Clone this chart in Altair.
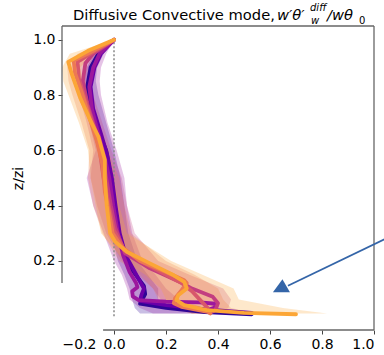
import altair as alt
import pandas as pd

# ---------------- data ----------------
SERIES = ["a_indigo", "b_purple", "c_violet", "d_magenta", "e_pink", "f_coral", "g_gold"]
COLORS = ["#2f0596", "#6a00a8", "#9c179e", "#c33d80", "#d8576b", "#ed7953", "#fca636"]

IND_X = [0.0, -0.06, -0.09, -0.105, -0.092, -0.06, -0.03, -0.012, 0.003, 0.018, 0.04, 0.075, 0.115, 0.12, 0.10, 0.2, 0.35, 0.53]
IND_Z = [1.0, 0.95, 0.9, 0.82, 0.757, 0.67, 0.6, 0.5, 0.4, 0.3, 0.22, 0.16, 0.11, 0.08, 0.045, 0.03, 0.015, 0.007]

PUR_X = [0.0, -0.05, -0.075, -0.09, -0.08, -0.05, -0.025, -0.008, 0.006, 0.022, 0.045, 0.08, 0.10, 0.115, 0.105, 0.10, 0.2, 0.35, 0.53]
PUR_Z = [1.0, 0.95, 0.9, 0.83, 0.75, 0.66, 0.58, 0.5, 0.4, 0.3, 0.22, 0.16, 0.125, 0.10, 0.075, 0.055, 0.04, 0.025, 0.012]

VIO_X = [0.0, -0.055, -0.08, -0.095, -0.085, -0.06, -0.035, -0.018, -0.003, 0.015, 0.035, 0.06, 0.085, 0.09, 0.07, 0.072, 0.095, 0.2, 0.33, 0.39, 0.385, 0.36]
VIO_Z = [1.0, 0.95, 0.9, 0.83, 0.75, 0.66, 0.57, 0.5, 0.4, 0.3, 0.22, 0.16, 0.12, 0.105, 0.09, 0.072, 0.058, 0.053, 0.05, 0.045, 0.03, 0.022]

MAG_X = [0.0, -0.08, -0.11, -0.12, -0.1, -0.07, -0.045, -0.03, -0.012, 0.005, 0.042, 0.138, 0.254, 0.30, 0.38, 0.40, 0.39, 0.37]
MAG_Z = [1.0, 0.95, 0.915, 0.85, 0.76, 0.67, 0.58, 0.5, 0.4, 0.32, 0.228, 0.173, 0.124, 0.10, 0.07, 0.047, 0.022, 0.012]

PNK_X = [0.0, -0.09, -0.14, -0.135, -0.11, -0.08, -0.055, -0.04, -0.02, 0.0, 0.04, 0.12, 0.2, 0.26, 0.3, 0.33, 0.36]
PNK_Z = [1.0, 0.95, 0.92, 0.86, 0.78, 0.69, 0.6, 0.5, 0.4, 0.31, 0.24, 0.19, 0.15, 0.12, 0.09, 0.06, 0.03]

COR_X = [0.0, -0.1, -0.155, -0.15, -0.124, -0.095, -0.065, -0.045, -0.035, -0.02, -0.005, 0.03, 0.1, 0.2, 0.27, 0.28, 0.26, 0.235, 0.23, 0.26, 0.36, 0.37]
COR_Z = [1.0, 0.95, 0.925, 0.88, 0.81, 0.72, 0.63, 0.55, 0.45, 0.38, 0.3, 0.25, 0.2, 0.16, 0.13, 0.12, 0.094, 0.065, 0.047, 0.034, 0.016, 0.01]

GLD_X = [0.0, -0.1, -0.176, -0.163, -0.13, -0.092, -0.06, -0.035, -0.035, -0.028, -0.015, 0.004, 0.049, 0.14, 0.23, 0.27, 0.28, 0.247, 0.24, 0.27, 0.357, 0.5, 0.70]
GLD_Z = [1.0, 0.96, 0.92, 0.878, 0.79, 0.71, 0.65, 0.565, 0.5, 0.4, 0.3, 0.27, 0.233, 0.19, 0.148, 0.124, 0.10, 0.076, 0.058, 0.04, 0.022, 0.012, 0.007]

# spread bands
BAND_Z = [1.0, 0.95, 0.9, 0.85, 0.8, 0.7, 0.6, 0.5, 0.4, 0.3, 0.2, 0.15, 0.1, 0.06, 0.03, 0.01]
IND_LO = [0, -0.075, -0.105, -0.12, -0.115, -0.09, -0.06, -0.045, -0.03, -0.01, 0.015, 0.04, 0.06, 0.07, 0.08, 0.1]
IND_HI = [0, -0.04, -0.065, -0.07, -0.06, -0.03, 0.0, 0.025, 0.04, 0.055, 0.09, 0.13, 0.17, 0.17, 0.3, 0.55]
VIO_LO = [0, -0.08, -0.11, -0.125, -0.12, -0.095, -0.07, -0.105, -0.08, -0.04, 0.0, 0.03, 0.05, 0.06, 0.1, 0.15]
VIO_HI = [0, -0.03, -0.05, -0.055, -0.05, -0.025, 0.01, 0.04, 0.05, 0.07, 0.11, 0.16, 0.2, 0.25, 0.35, 0.45]
MAG_LO = [0, -0.11, -0.14, -0.145, -0.135, -0.105, -0.08, -0.09, -0.065, -0.03, 0.03, 0.09, 0.15, 0.18, 0.25, 0.3]
MAG_HI = [0, -0.05, -0.08, -0.09, -0.08, -0.045, -0.01, 0.03, 0.05, 0.08, 0.17, 0.29, 0.42, 0.45, 0.44, 0.4]
COR_LO = [0, -0.14, -0.18, -0.175, -0.16, -0.125, -0.095, -0.1, -0.08, -0.045, 0.02, 0.1, 0.15, 0.17, 0.22, 0.3]
COR_HI = [0, -0.07, -0.12, -0.11, -0.09, -0.06, -0.025, 0.02, 0.04, 0.065, 0.2, 0.31, 0.4, 0.42, 0.45, 0.55]
GLD_LO = [0, -0.17, -0.2, -0.195, -0.175, -0.135, -0.1, -0.09, -0.07, -0.05, 0.04, 0.12, 0.18, 0.2, 0.24, 0.3]
GLD_HI = [0, -0.08, -0.13, -0.12, -0.1, -0.06, -0.02, 0.0, 0.02, 0.05, 0.22, 0.34, 0.46, 0.48, 0.65, 0.82]

X_TICKS = [-0.2, 0.0, 0.2, 0.4, 0.6, 0.8, 1.0]
Y_TICKS = [0.2, 0.4, 0.6, 0.8, 1.0]

# ---------------- tables ----------------
line_sets = [("a_indigo", IND_X, IND_Z), ("b_purple", PUR_X, PUR_Z), ("c_violet", VIO_X, VIO_Z),
             ("d_magenta", MAG_X, MAG_Z), ("e_pink", PNK_X, PNK_Z), ("f_coral", COR_X, COR_Z),
             ("g_gold", GLD_X, GLD_Z)]
rows = []
for name, xs_, zs_ in line_sets:
    for i, (x, z) in enumerate(zip(xs_, zs_)):
        rows.append({"series": name, "i": i, "x": x, "z": z})
lines_df = pd.DataFrame(rows)

band_sets = [("a_indigo", IND_LO, IND_HI), ("c_violet", VIO_LO, VIO_HI), ("d_magenta", MAG_LO, MAG_HI),
             ("f_coral", COR_LO, COR_HI), ("g_gold", GLD_LO, GLD_HI)]
brows = []
for name, lo, hi in band_sets:
    for z, a, b in zip(BAND_Z, lo, hi):
        brows.append({"series": name, "z": z, "lo": a, "hi": b})
bands_df = pd.DataFrame(brows)

spines_df = pd.DataFrame({
    "x1": [-0.2, -0.042, -0.2, 1.0],
    "x2": [-0.2, 1.0, 1.0, 1.0],
    "z1": [0.12, -0.05, 1.05, -0.05],
    "z2": [1.05, -0.05, 1.05, 1.05],
})
zero_df = pd.DataFrame({"x": [0.0], "z1": [0.0], "z2": [1.0]})
arrow_df = pd.DataFrame({"x1": [1.1], "z1": [0.3056], "x2": [0.669], "z2": [0.110]})
head_df = pd.DataFrame({"x": [0.644], "z": [0.110]})

xs = alt.Scale(domain=[-0.2, 1.0], nice=False, zero=False)
ys = alt.Scale(domain=[-0.05, 1.05], nice=False, zero=False)
cscale = alt.Scale(domain=SERIES, range=COLORS)

x_axis = alt.Axis(values=X_TICKS, format=".1f", title=None, domain=False, grid=False,
                  labelFontSize=14, labelColor="#000", tickColor="#444", tickSize=4,
                  labelPadding=3, labelFont="DejaVu Sans",
                  tickOpacity={"condition": {"test": "datum.value < -0.1", "value": 0}, "value": 1})
y_axis = alt.Axis(values=Y_TICKS, format=".1f", title="z/zi", domain=False, grid=False,
                  labelFontSize=14, labelColor="#000", tickColor="#444", tickSize=4,
                  labelPadding=3, labelFont="DejaVu Sans", titleFont="DejaVu Sans",
                  titleFontSize=14, titleFontWeight="normal", titleColor="#000",
                  titleX=-44, titleY=152, titleAngle=-90, titleAlign="center", titleBaseline="middle")

bands = alt.Chart(bands_df).mark_area(orient="horizontal", opacity=0.26).encode(
    x=alt.X("lo:Q", scale=xs, axis=x_axis, stack=None),
    x2="hi:Q",
    y=alt.Y("z:Q", scale=ys, axis=y_axis),
    color=alt.Color("series:N", scale=cscale, legend=None),
)

zero_line = alt.Chart(zero_df).mark_rule(color="#888", strokeDash=[2, 2], strokeWidth=1.5).encode(
    x="x:Q", y="z1:Q", y2="z2:Q")

lines = alt.Chart(lines_df).mark_line(strokeWidth=3.8, strokeCap="round", strokeJoin="round").encode(
    x="x:Q", y="z:Q",
    color=alt.Color("series:N", scale=cscale, legend=None),
    order=alt.Order("i:Q"),
)

spines = alt.Chart(spines_df).mark_rule(color="#666", strokeWidth=1.3).encode(
    x="x1:Q", x2="x2:Q", y="z1:Q", y2="z2:Q")

arrow = alt.Chart(arrow_df).mark_rule(color="#3465a8", strokeWidth=1.8).encode(
    x="x1:Q", x2="x2:Q", y="z1:Q", y2="z2:Q")

head = alt.Chart(head_df).mark_point(
    shape="M-1,0.76 L1,0.76 L0.12,-0.76 Z", filled=True, size=289, color="#3465a8", opacity=1
).encode(x="x:Q", y="z:Q")

def txt(s, x, y, size=14.7, italic=False):
    return alt.Chart(pd.DataFrame({"t": [s]})).mark_text(
        align="left", baseline="alphabetic", fontSize=size, color="#000", font="DejaVu Sans",
        fontStyle="italic" if italic else "normal"
    ).encode(x=alt.value(x), y=alt.value(y), text="t:N")

title_parts = [
    txt("Diffusive Convective mode,", 11, -6),
    txt("w′θ′", 215, -6, italic=True),
    txt("diff", 248, -15, size=10, italic=True),
    txt("w", 249, -2, size=10, italic=True),
    txt("/wθ", 265, -6, italic=True),
    txt("0", 297, -2, size=10),
]

chart = alt.layer(bands, zero_line, lines, spines, arrow, head, *title_parts).properties(
    width=312, height=304,
    autosize=alt.AutoSizeParams(type="none"),
    padding={"left": 62, "top": 26, "right": 10, "bottom": 25},
).configure_view(stroke=None)

chart.save("out.html", embed_options={"renderer": "svg", "actions": False})
